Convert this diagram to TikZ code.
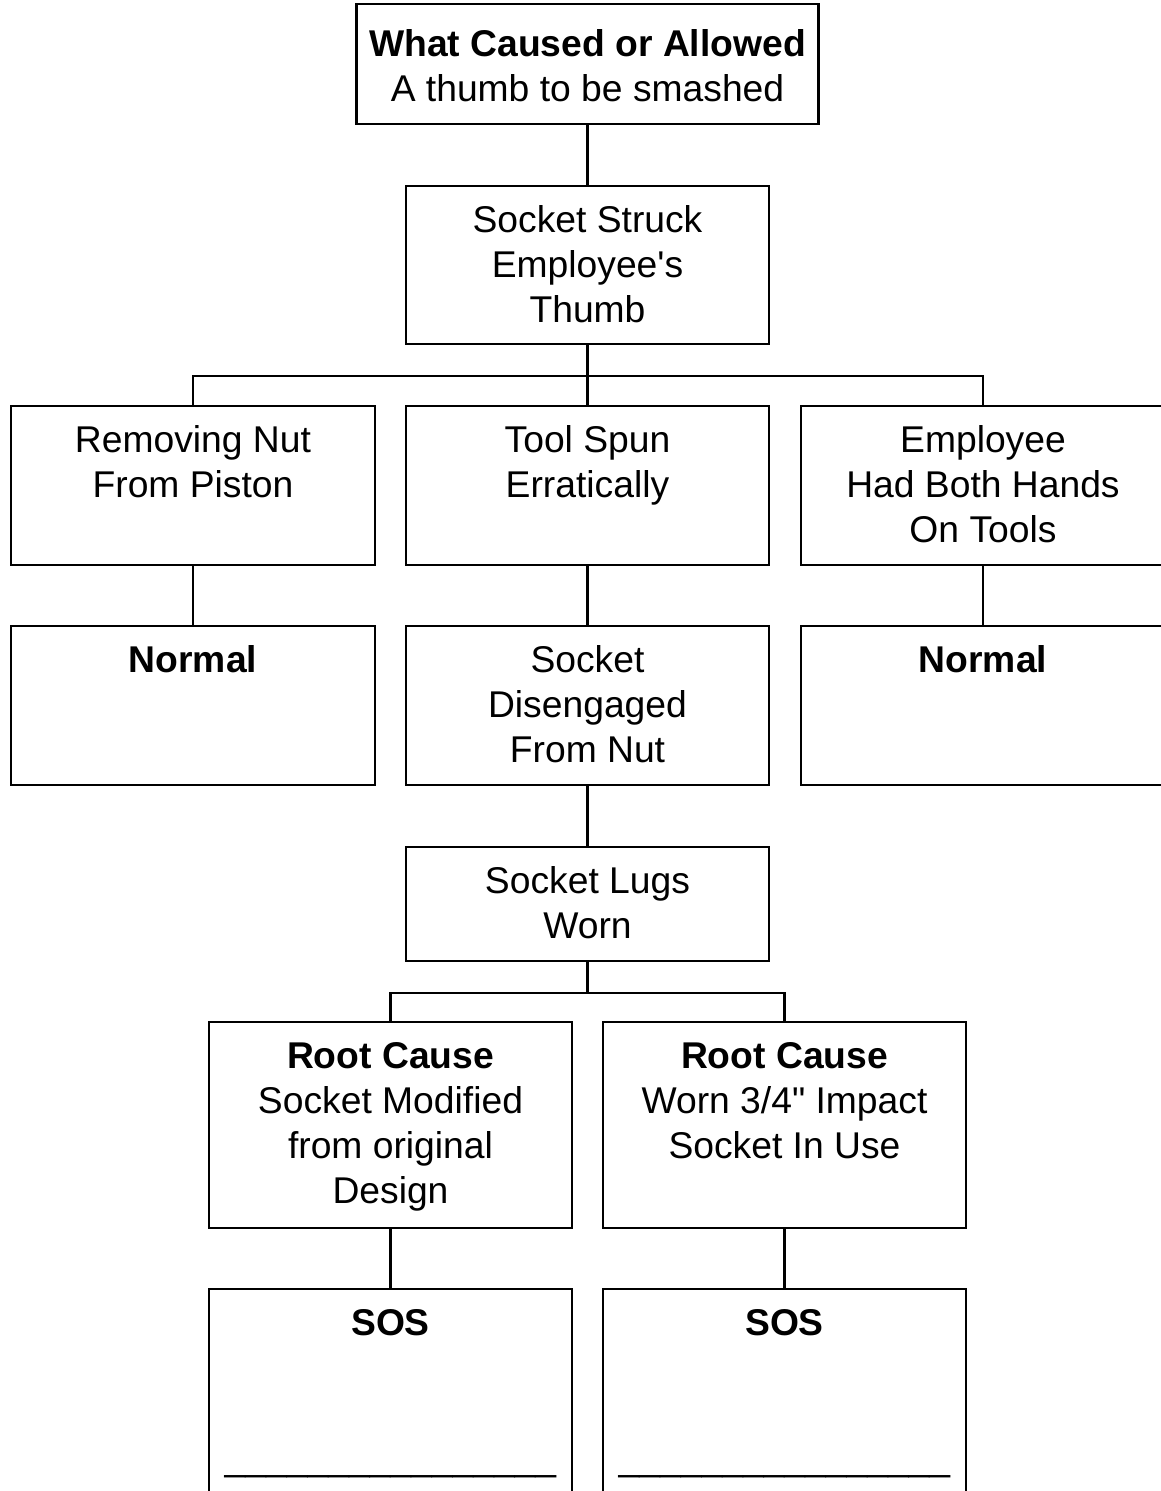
\documentclass[tikz,border=0pt]{standalone}
\usepackage{fontspec}
\setmainfont{Liberation Sans}[Ligatures=TeXOff]
\usetikzlibrary{calc}

% box text: width, height, first baseline, lines
\newcommand{\boxtext}[4]{\parbox[c][#2][t]{#1}{\centering\rule{0pt}{#3}#4}}
\newcommand{\sosline}{\_\_\_\_\_\_\_\_\_\_\_\_\_\_\_\_}

\tikzset{box/.style={draw, line width=0.6pt, inner sep=0pt, anchor=north},
	link/.style={line width=0.6pt}}

\begin{document}
\begin{tikzpicture}
	\fontsize{10.6}{12.8}\selectfont
	\useasboundingbox (0,0) rectangle (11.61,-14.91);
	
	\node[box] (top) at (5.875,-0.03) {\boxtext{4.62cm}{1.20cm}{14.9pt}{\textbf{What Caused or Allowed}\\A thumb to be smashed}};
	\node[box] (sock) at (5.875,-1.85) {\boxtext{3.63cm}{1.58cm}{13.2pt}{Socket Struck\\Employee's\\Thumb}};
	
	\node[box] (nut) at (1.93,-4.05) {\boxtext{3.64cm}{1.59cm}{13.2pt}{Removing Nut\\From Piston}};
	\node[box] (spun) at (5.875,-4.05) {\boxtext{3.63cm}{1.59cm}{13.2pt}{Tool Spun\\Erratically}};
	\node[box] (hands) at (9.83,-4.05) {\boxtext{3.64cm}{1.59cm}{13.2pt}{Employee\\Had Both Hands\\On Tools}};
	
	\node[box] (normL) at (1.93,-6.25) {\boxtext{3.64cm}{1.59cm}{13.2pt}{\textbf{Normal}}};
	\node[box] (diseng) at (5.875,-6.25) {\boxtext{3.63cm}{1.59cm}{13.2pt}{Socket\\Disengaged\\From Nut}};
	\node[box] (normR) at (9.83,-6.25) {\boxtext{3.64cm}{1.59cm}{13.2pt}{\textbf{Normal}}};
	
	\node[box] (lugs) at (5.875,-8.46) {\boxtext{3.63cm}{1.14cm}{13.2pt}{Socket Lugs\\Worn}};
	
	\node[box] (rootL) at (3.905,-10.21) {\boxtext{3.63cm}{2.06cm}{13.2pt}{\textbf{Root Cause}\\Socket Modified\\from original\\Design}};
	\node[box] (rootR) at (7.845,-10.21) {\boxtext{3.63cm}{2.06cm}{13.2pt}{\textbf{Root Cause}\\Worn 3/4" Impact\\Socket In Use}};
	
	\node[box] (sosL) at (3.905,-12.88) {\boxtext{3.63cm}{2.5cm}{13.2pt}{\textbf{SOS}\\\strut\\\strut\\\sosline}};
	\node[box] (sosR) at (7.845,-12.88) {\boxtext{3.63cm}{2.5cm}{13.2pt}{\textbf{SOS}\\\strut\\\strut\\\sosline}};
	
	% connectors
	\draw[link] (top.south) -- (sock.north);
	\draw[link] (sock.south) -- ++(0,-0.31) coordinate (j1);
	\draw[link] (nut.north) |- (j1) -| (hands.north);
	\draw[link] (j1) -- (spun.north);
	\draw[link] (nut.south) -- (normL.north);
	\draw[link] (spun.south) -- (diseng.north);
	\draw[link] (hands.south) -- (normR.north);
	\draw[link] (diseng.south) -- (lugs.north);
	\draw[link] (lugs.south) -- ++(0,-0.31) coordinate (j2);
	\draw[link] (rootL.north) |- (j2) -| (rootR.north);
	\draw[link] (rootL.south) -- (sosL.north);
	\draw[link] (rootR.south) -- (sosR.north);
\end{tikzpicture}
\end{document}
